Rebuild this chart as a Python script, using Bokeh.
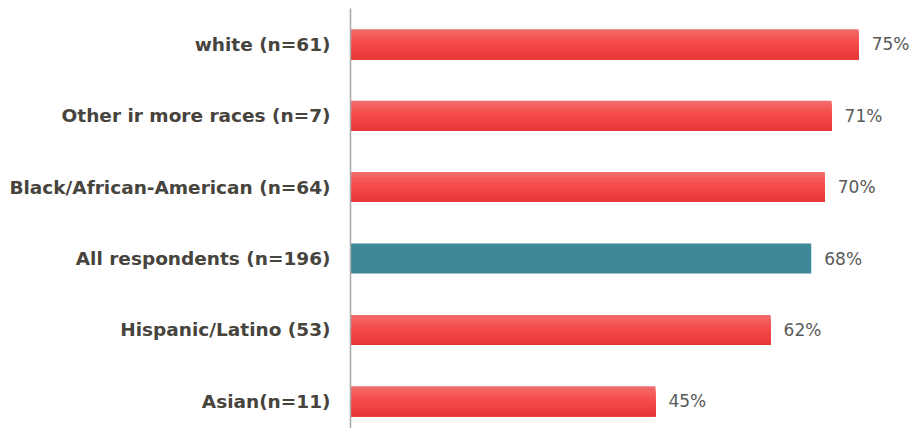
from bokeh.plotting import figure
from bokeh.models import ColumnDataSource, Range1d, FixedTicker
from bokeh.core.properties import value
from bokeh.embed import file_html
from bokeh.resources import INLINE

# Data (bottom to top)
categories = ["Asian(n=11)", "Hispanic/Latino (53)", "All respondents (n=196)",
              "Black/African-American (n=64)", "Other ir more races (n=7)", "white (n=61)"]
values = [45, 62, 68, 70, 71, 75]
highlight = ["no", "no", "yes", "no", "no", "no"]
value_labels = ["45%", "62%", "68%", "70%", "71%", "75%"]

pos = list(range(len(categories)))

p = figure(width=909, height=428, output_backend="svg", toolbar_location=None,
           y_range=Range1d(-0.38, 5.5), x_range=Range1d(0, 82.5),
           x_axis_location=None, min_border_left=350, min_border_right=0,
           min_border_top=8, min_border_bottom=0)
p.outline_line_color = None
p.xgrid.visible = False
p.ygrid.visible = False

BAR_H = 0.42
N = 16
# gradient stops from top to bottom for red bars
stops = [(0.0, (243, 110, 110)), (0.45, (246, 74, 74)), (1.0, (230, 55, 55))]

def grad(t):
    for (t0, c0), (t1, c1) in zip(stops[:-1], stops[1:]):
        if t0 <= t <= t1:
            f = (t - t0) / (t1 - t0)
            return "#%02x%02x%02x" % tuple(int(round(a + (b - a) * f)) for a, b in zip(c0, c1))
    return "#%02x%02x%02x" % stops[-1][1]

red_pos = [y for y, h in zip(pos, highlight) if h == "no"]
red_vals = [v for v, h in zip(values, highlight) if h == "no"]
hl_pos = [y for y, h in zip(pos, highlight) if h == "yes"]
hl_vals = [v for v, h in zip(values, highlight) if h == "yes"]

sh = BAR_H / N
for i in range(N):
    top = BAR_H / 2 - i * sh
    bot = -BAR_H / 2
    src = ColumnDataSource(dict(y=[y + (top + bot) / 2 for y in red_pos], val=red_vals))
    p.hbar(y="y", right="val", left=0, height=top - bot, source=src,
           fill_color=grad((i + 0.5) / N), line_color=None)

hl_src = ColumnDataSource(dict(y=hl_pos, val=hl_vals))
p.hbar(y="y", right="val", left=0, height=BAR_H, source=hl_src,
       fill_color="#3E8898", line_color=None)

lbl_src = ColumnDataSource(dict(y=pos, val=values, lab=value_labels))
p.text(x="val", y="y", text="lab", source=lbl_src, x_offset=13,
       text_baseline="middle", text_align="left", text_font=value("DejaVu Sans"),
       text_font_size="17px", text_color="#595959")

ax = p.yaxis[0]
ax.ticker = FixedTicker(ticks=pos)
ax.major_label_overrides = {y: c for y, c in zip(pos, categories)}
ax.major_tick_line_color = None
ax.minor_tick_line_color = None
ax.major_tick_out = 0
ax.major_tick_in = 0
ax.axis_line_color = "#A6A6A6"
ax.axis_line_width = 1.5
ax.major_label_standoff = 20
ax.major_label_text_font = "DejaVu Sans"
ax.major_label_text_font_style = "bold"
ax.major_label_text_font_size = "18.5px"
ax.major_label_text_color = "#46443D"

open("out.html", "w").write(file_html(p, INLINE))
